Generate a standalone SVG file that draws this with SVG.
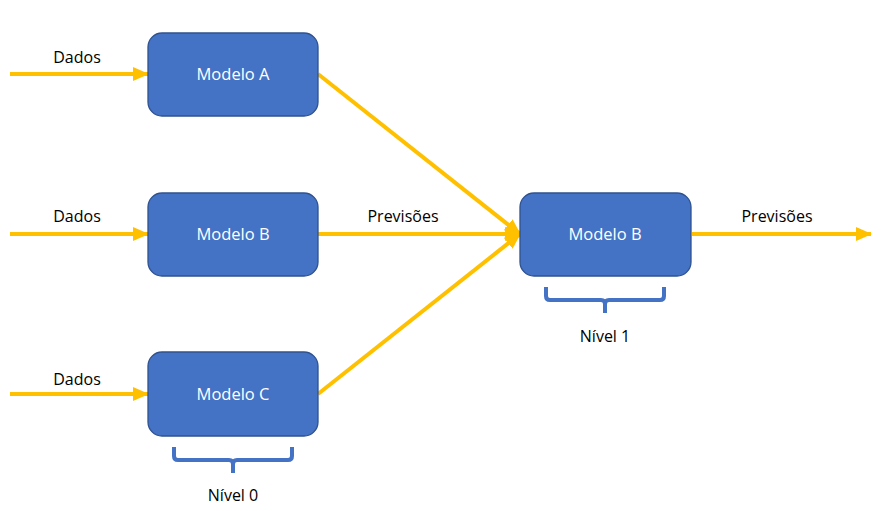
<svg xmlns="http://www.w3.org/2000/svg" width="884" height="511" viewBox="0 0 884 511">
<defs>
<marker id="ah" markerWidth="16" markerHeight="14" refX="15" refY="7" orient="auto" markerUnits="userSpaceOnUse">
<path d="M0,0 L16,7 L0,14 Z" fill="#FFC000"/>
</marker>
<style>
.box{fill:#4472C4;stroke:#2F528F;stroke-width:1.3}
.bt{fill:#fff;font-family:"Open Sans","Liberation Sans",sans-serif;font-size:16.5px;text-anchor:middle}
.lt{fill:#000;font-family:"Open Sans","Liberation Sans",sans-serif;font-size:16px;text-anchor:middle}
.c{stroke:#FFC000;stroke-width:4;fill:none;marker-end:url(#ah)}
.br{stroke:#4472C4;stroke-width:4;fill:none;stroke-linejoin:round}
</style>
</defs>
<rect width="884" height="511" fill="#fff"/>
<g id="connectors">
<line class="c" x1="10" y1="74" x2="148" y2="74"/>
<line class="c" x1="10" y1="234" x2="148" y2="234"/>
<line class="c" x1="10" y1="394" x2="148" y2="394"/>
<line class="c" x1="318" y1="74" x2="520" y2="234"/>
<line class="c" x1="318" y1="234" x2="520" y2="234"/>
<line class="c" x1="318" y1="394" x2="520" y2="234"/>
<line class="c" x1="692" y1="234" x2="871" y2="234"/>
</g>
<g id="labels">
<text class="lt" x="77" y="63">Dados</text>
<text class="lt" x="77" y="222">Dados</text>
<text class="lt" x="77" y="385">Dados</text>
<text class="lt" x="403" y="222">Previsões</text>
<text class="lt" x="777" y="222">Previsões</text>
</g>
<g id="modeloA">
<rect class="box" x="148" y="33" width="170" height="83" rx="14"/>
<text class="bt" x="233" y="80">Modelo A</text>
</g>
<g id="modeloB">
<rect class="box" x="148" y="193" width="170" height="83" rx="14"/>
<text class="bt" x="233" y="240">Modelo B</text>
</g>
<g id="modeloC">
<rect class="box" x="148" y="352" width="170" height="84" rx="14"/>
<text class="bt" x="233" y="400">Modelo C</text>
</g>
<g id="modeloB2">
<rect class="box" x="520" y="193" width="171" height="83" rx="14"/>
<text class="bt" x="605" y="240">Modelo B</text>
</g>
<g id="nivel0">
<path class="br" d="M174,447 V456 Q174,460 178,460 H229 Q233,460 233,464 V473 M233,464 Q233,460 237,460 H288 Q292,460 292,456 V447"/>
<text class="lt" x="233" y="501">Nível 0</text>
</g>
<g id="nivel1">
<path class="br" d="M546,287 V296 Q546,300 550,300 H601 Q605,300 605,304 V313 M605,304 Q605,300 609,300 H660 Q664,300 664,296 V287"/>
<text class="lt" x="605" y="342">Nível 1</text>
</g>
</svg>
